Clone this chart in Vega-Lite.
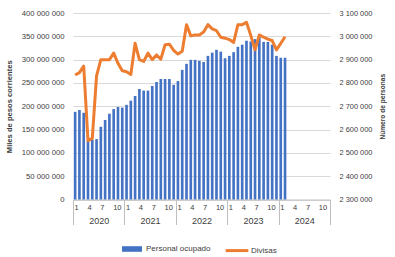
{
  "$schema": "https://vega.github.io/schema/vega-lite/v6.json",
  "width": 257,
  "height": 186.5,
  "autosize": "none",
  "padding": {"left": 73, "top": 13, "right": 65, "bottom": 57.5},
  "background": "white",
  "config": {
    "view": {"stroke": null},
    "font": "Liberation Sans",
    "locale": {"number": {"decimal": ",", "thousands": " ", "grouping": [3], "currency": ["", ""]}},
    "axis": {"labelColor": "#404040", "titleColor": "#404040", "labelFont": "Liberation Sans", "titleFont": "Liberation Sans"},
    "legend": {"labelColor": "#404040", "labelFont": "Liberation Sans", "labelFontSize": 8, "padding": 0}
  },
  "data": {"values": [
    {"t": "2020-01", "personal": 2676000, "divisas": 267000000},
    {"t": "2020-02", "personal": 2684000, "divisas": 272000000},
    {"t": "2020-03", "personal": 2672000, "divisas": 286000000},
    {"t": "2020-04", "personal": 2552000, "divisas": 126000000},
    {"t": "2020-05", "personal": 2556000, "divisas": 131000000},
    {"t": "2020-06", "personal": 2559000, "divisas": 265000000},
    {"t": "2020-07", "personal": 2612000, "divisas": 300000000},
    {"t": "2020-08", "personal": 2641000, "divisas": 300000000},
    {"t": "2020-09", "personal": 2668000, "divisas": 300000000},
    {"t": "2020-10", "personal": 2688000, "divisas": 314000000},
    {"t": "2020-11", "personal": 2697000, "divisas": 292000000},
    {"t": "2020-12", "personal": 2694000, "divisas": 276000000},
    {"t": "2021-01", "personal": 2706000, "divisas": 274000000},
    {"t": "2021-02", "personal": 2724000, "divisas": 268000000},
    {"t": "2021-03", "personal": 2744000, "divisas": 335000000},
    {"t": "2021-04", "personal": 2774000, "divisas": 300000000},
    {"t": "2021-05", "personal": 2767000, "divisas": 296000000},
    {"t": "2021-06", "personal": 2767000, "divisas": 314000000},
    {"t": "2021-07", "personal": 2787000, "divisas": 300000000},
    {"t": "2021-08", "personal": 2804000, "divisas": 310000000},
    {"t": "2021-09", "personal": 2817000, "divisas": 301000000},
    {"t": "2021-10", "personal": 2817000, "divisas": 332000000},
    {"t": "2021-11", "personal": 2817000, "divisas": 333000000},
    {"t": "2021-12", "personal": 2792000, "divisas": 320000000},
    {"t": "2022-01", "personal": 2808000, "divisas": 312000000},
    {"t": "2022-02", "personal": 2856000, "divisas": 318000000},
    {"t": "2022-03", "personal": 2882000, "divisas": 375000000},
    {"t": "2022-04", "personal": 2899000, "divisas": 351000000},
    {"t": "2022-05", "personal": 2899000, "divisas": 353000000},
    {"t": "2022-06", "personal": 2895000, "divisas": 353000000},
    {"t": "2022-07", "personal": 2890000, "divisas": 359000000},
    {"t": "2022-08", "personal": 2916000, "divisas": 375000000},
    {"t": "2022-09", "personal": 2930000, "divisas": 366000000},
    {"t": "2022-10", "personal": 2942000, "divisas": 362000000},
    {"t": "2022-11", "personal": 2934000, "divisas": 348000000},
    {"t": "2022-12", "personal": 2906000, "divisas": 346000000},
    {"t": "2023-01", "personal": 2916000, "divisas": 343000000},
    {"t": "2023-02", "personal": 2932000, "divisas": 337000000},
    {"t": "2023-03", "personal": 2955000, "divisas": 375000000},
    {"t": "2023-04", "personal": 2964000, "divisas": 375000000},
    {"t": "2023-05", "personal": 2981000, "divisas": 380000000},
    {"t": "2023-06", "personal": 2978000, "divisas": 352000000},
    {"t": "2023-07", "personal": 2988000, "divisas": 321000000},
    {"t": "2023-08", "personal": 2998000, "divisas": 353000000},
    {"t": "2023-09", "personal": 2976000, "divisas": 348000000},
    {"t": "2023-10", "personal": 2976000, "divisas": 344000000},
    {"t": "2023-11", "personal": 2964000, "divisas": 341000000},
    {"t": "2023-12", "personal": 2916000, "divisas": 321000000},
    {"t": "2024-01", "personal": 2908000, "divisas": 335000000},
    {"t": "2024-02", "personal": 2908000, "divisas": 349000000}
  ]},
  "encoding": {
    "x": {
      "field": "t", "type": "ordinal",
      "scale": {"type": "band", "paddingInner": 0, "paddingOuter": 0, "domain": [
        "2020-01","2020-02","2020-03","2020-04","2020-05","2020-06","2020-07","2020-08","2020-09","2020-10","2020-11","2020-12",
        "2021-01","2021-02","2021-03","2021-04","2021-05","2021-06","2021-07","2021-08","2021-09","2021-10","2021-11","2021-12",
        "2022-01","2022-02","2022-03","2022-04","2022-05","2022-06","2022-07","2022-08","2022-09","2022-10","2022-11","2022-12",
        "2023-01","2023-02","2023-03","2023-04","2023-05","2023-06","2023-07","2023-08","2023-09","2023-10","2023-11","2023-12",
        "2024-01","2024-02","2024-03","2024-04","2024-05","2024-06","2024-07","2024-08","2024-09","2024-10","2024-11","2024-12"
      ]}
    }
  },
  "layer": [
    {
      "mark": {"type": "bar", "width": {"band": 0.62}},
      "encoding": {
        "x": {
          "field": "t", "type": "ordinal", "title": null,
          "axis": {
            "orient": "bottom", "domain": true, "domainColor": "#bfbfbf", "domainWidth": 1,
            "ticks": true, "tickSize": 25, "tickColor": "#bfbfbf", "tickWidth": 1,
            "tickOpacity": {"condition": {"test": "datum.value == '2020-01'", "value": 1}, "value": 0},
            "tickOffset": -2.14, "labelOffset": 1.1, "labelAlign": "left",
            "labelPadding": -21, "labelFontSize": 7.5, "labelAngle": 0, "labelOverlap": false,
            "labelExpr": "indexof(['01','04','07','10'], slice(datum.value, 5)) >= 0 ? toString(toNumber(slice(datum.value, 5))) : ''",
            "grid": false
          }
        },
        "y": {
          "field": "personal", "type": "quantitative",
          "scale": {"domain": [2300000, 3100000], "zero": false, "nice": false},
          "axis": {
            "orient": "right", "title": "Número de personas", "titleFontSize": 6.6, "titleAngle": 270,
            "titlePadding": 14, "values": [2300000,2400000,2500000,2600000,2700000,2800000,2900000,3000000,3100000],
            "format": ",.0f", "labelFontSize": 7.4, "labelPadding": 9, "domain": false, "ticks": false, "grid": false
          }
        },
        "y2": {"datum": 2300000},
        "fill": {
          "datum": "Personal ocupado", "type": "nominal",
          "scale": {"range": ["#4472C4"]},
          "legend": {"orient": "none", "legendX": 49, "legendY": 226, "title": null,
            "symbolType": "M-1,-0.28H1V0.28H-1Z", "symbolSize": 400, "symbolStrokeWidth": 0, "labelOffset": 4}
        }
      }
    },
    {
      "mark": {"type": "line", "strokeWidth": 3, "strokeJoin": "round"},
      "encoding": {
        "x": {
          "field": "t", "type": "ordinal", "title": null,
          "axis": {
            "orient": "bottom", "domain": false, "values": ["2020-12","2021-12","2022-12","2023-12","2024-12"],
            "ticks": true, "tickSize": 25, "tickColor": "#bfbfbf", "tickWidth": 1,
            "tickOffset": 2.14, "labelOffset": -25.7, "labelAlign": "center", "labelPadding": -8.5,
            "labelFontSize": 9, "labelAngle": 0, "labelOverlap": false,
            "labelExpr": "slice(datum.value, 0, 4)", "grid": false
          }
        },
        "y": {
          "field": "divisas", "type": "quantitative",
          "scale": {"domain": [0, 400000000], "nice": false},
          "axis": {
            "orient": "left", "title": "Miles de pesos corrientes", "titleFontSize": 7.6, "titleFontWeight": "bold",
            "titlePadding": 8, "values": [0,50000000,100000000,150000000,200000000,250000000,300000000,350000000,400000000],
            "format": ",.0f", "labelFontSize": 7.7, "labelPadding": 9, "domain": false, "ticks": false,
            "grid": true, "gridColor": "#d9d9d9", "gridWidth": 1
          }
        },
        "stroke": {
          "datum": "Divisas", "type": "nominal",
          "scale": {"range": ["#ED7D31"]},
          "legend": {"orient": "none", "legendX": 151, "legendY": 224.6, "title": null,
            "symbolType": "stroke", "symbolSize": 515, "symbolStrokeWidth": 3, "labelOffset": 1}
        }
      }
    }
  ],
  "resolve": {"scale": {"y": "independent"}, "axis": {"x": "independent", "y": "independent"}}
}
